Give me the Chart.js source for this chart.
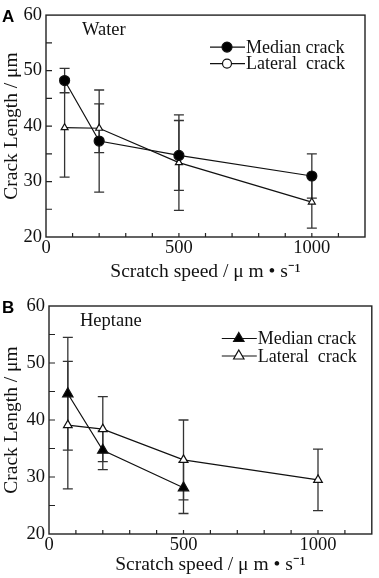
<!DOCTYPE html>
<html>
<head>
    <title>Crack length vs scratch speed</title>
    <script src="https://cdn.jsdelivr.net/npm/chart.js"></script>
    <style>
        body { margin: 0; background: #fff; width: 379px; height: 578px; overflow: hidden; }
        canvas { position: absolute; left: 0; }
        #chartA { top: 0; }
        #chartB { top: 289px; }
    </style>
</head>
<body>
    <canvas id="chartA" width="379" height="289"></canvas>
    <canvas id="chartB" width="379" height="289"></canvas>
    <script>
        // scratch speeds (um/s)
        const speeds = [70, 200, 500, 1000];
        const heptaneMedianSpeeds = [70, 200, 500];

        // panel A - water
        const waterMedian = [48.2, 37.3, 34.7, 31.0];
        const waterMedianErr = [2.2, 9.2, 6.3, 4.0];
        const waterLateral = [39.7, 39.6, 33.4, 26.3];
        const waterLateralErr = [8.9, 4.4, 8.6, 4.7];

        // panel B - heptane
        const heptaneMedian = [44.6, 34.7, 28.1];
        const heptaneMedianErr = [9.9, 3.4, 4.5];
        const heptaneLateral = [39.1, 38.4, 33.0, 29.5];
        const heptaneLateralErr = [11.2, 5.7, 7.0, 5.4];

        const xLabels = [0, 500, 1000];
        const yLabels = [20, 30, 40, 50, 60];

        const serif = 'Liberation Serif, Times New Roman, serif';
        const ink = '#111';

        function points(xs, ys) {
            return xs.map((x, i) => ({ x: x, y: ys[i] }));
        }

        // error bars drawn under the markers
        const errorBars = {
            id: 'errorBars',
            beforeDatasetsDraw(chart) {
                const ctx = chart.ctx;
                const yScale = chart.scales.y;
                ctx.save();
                ctx.strokeStyle = '#333';
                ctx.lineWidth = 1.3;
                chart.data.datasets.forEach((ds, i) => {
                    const meta = chart.getDatasetMeta(i);
                    meta.data.forEach((el, j) => {
                        const v = ds.data[j].y, e = ds.errors[j];
                        const top = yScale.getPixelForValue(v + e);
                        const bot = yScale.getPixelForValue(v - e);
                        ctx.beginPath();
                        ctx.moveTo(el.x, top); ctx.lineTo(el.x, bot);
                        ctx.moveTo(el.x - 5, top); ctx.lineTo(el.x + 5, top);
                        ctx.moveTo(el.x - 5, bot); ctx.lineTo(el.x + 5, bot);
                        ctx.stroke();
                    });
                });
                ctx.restore();
            }
        };

        // box, inner ticks, panel letter, liquid name and legend
        const frame = {
            id: 'frame',
            afterDraw(chart) {
                const ctx = chart.ctx;
                const a = chart.chartArea;
                const opt = chart.options.plugins.frame;
                ctx.save();
                ctx.strokeStyle = '#222';
                ctx.lineWidth = 1.4;
                ctx.strokeRect(a.left, a.top, a.right - a.left, a.bottom - a.top);

                ctx.lineWidth = 1.2;
                ctx.beginPath();
                chart.scales.x.ticks.forEach(t => {
                    const px = chart.scales.x.getPixelForValue(t.value);
                    if (px <= a.left + 1 || px >= a.right - 1) return;
                    ctx.moveTo(px, a.bottom); ctx.lineTo(px, a.bottom - 4);
                });
                chart.scales.y.ticks.forEach(t => {
                    const py = chart.scales.y.getPixelForValue(t.value);
                    if (py <= a.top + 1 || py >= a.bottom - 1) return;
                    ctx.moveTo(a.left, py); ctx.lineTo(a.left + 6, py);
                });
                ctx.stroke();

                ctx.fillStyle = '#000';
                ctx.font = 'bold 17px Liberation Sans, Arial, sans-serif';
                ctx.textBaseline = 'middle';
                ctx.textAlign = 'left';
                ctx.fillText(opt.letter, 2, a.top + 2);

                ctx.fillStyle = ink;
                ctx.font = '18.5px ' + serif;
                ctx.fillText(opt.liquid, a.left + opt.liquidDx, a.top + 15.5);

                // legend: line with marker, then label
                const x0 = a.right - opt.legendDx;
                chart.data.datasets.forEach((ds, i) => {
                    const y = a.top + opt.legendDy + i * opt.legendGap;
                    ctx.strokeStyle = ink;
                    ctx.lineWidth = 1.2;
                    ctx.beginPath();
                    ctx.moveTo(x0, y); ctx.lineTo(x0 + 35, y);
                    ctx.stroke();
                    ctx.fillStyle = ds.pointBackgroundColor;
                    ctx.strokeStyle = ink;
                    Chart.helpers.drawPoint(ctx, {
                        pointStyle: ds.legendStyle,
                        radius: ds.legendRadius,
                        rotation: 0,
                        borderWidth: 1.2
                    }, x0 + 17, y);
                    ctx.fillStyle = ink;
                    ctx.font = '18px ' + serif;
                    ctx.fillText(ds.label, x0 + 36, y + 1);
                });
                ctx.restore();
            }
        };

        function makeChart(id, datasets, layout) {
            return new Chart(document.getElementById(id), {
                type: 'scatter',
                data: { datasets: datasets },
                options: {
                    responsive: false,
                    animation: false,
                    layout: { padding: { top: layout.top, right: layout.right, left: 0, bottom: 0 } },
                    plugins: {
                        legend: { display: false },
                        tooltip: { enabled: false },
                        frame: layout.frame
                    },
                    scales: {
                        x: {
                            type: 'linear',
                            min: 0,
                            max: 1200,
                            afterFit: s => { s.height = layout.xHeight; },
                            grid: { display: false, drawTicks: false },
                            border: { display: false },
                            ticks: {
                                stepSize: 100,
                                autoSkip: false,
                                maxRotation: 0,
                                padding: 0,
                                color: ink,
                                font: { family: serif, size: 18.5 },
                                callback: v => xLabels.includes(v) ? String(v) : ''
                            },
                            title: {
                                display: true,
                                text: 'Scratch speed / \u03bc m \u2022 s\u207b\u00b9',
                                color: ink,
                                font: { family: serif, size: 19.5, lineHeight: 1 },
                                padding: { top: 0, bottom: layout.titlePad }
                            }
                        },
                        y: {
                            min: 20,
                            max: 60,
                            afterFit: s => { s.width = layout.yWidth; },
                            grid: { display: false, drawTicks: false },
                            border: { display: false },
                            ticks: {
                                stepSize: 5,
                                autoSkip: false,
                                padding: 4,
                                color: ink,
                                font: { family: serif, size: 18.5 },
                                callback: v => yLabels.includes(v) ? String(v) : ''
                            },
                            title: {
                                display: true,
                                text: 'Crack Length / \u03bcm',
                                color: ink,
                                font: { family: serif, size: 19.5, lineHeight: 1 },
                                padding: { top: 2, bottom: 0 }
                            }
                        }
                    }
                },
                plugins: [errorBars, frame]
            });
        }

        function series(label, xs, ys, errs, style) {
            return Object.assign({
                label: label,
                data: points(xs, ys),
                errors: errs,
                showLine: true,
                borderColor: ink,
                borderWidth: 1.2,
                pointBorderColor: ink,
                pointBorderWidth: 1.2,
                tension: 0
            }, style);
        }

        makeChart('chartA', [
            series('Median crack', speeds, waterMedian, waterMedianErr, {
                pointStyle: 'circle', pointRadius: 5, pointBackgroundColor: '#000',
                legendStyle: 'circle', legendRadius: 5
            }),
            series('Lateral  crack', speeds, waterLateral, waterLateralErr, {
                pointStyle: 'triangle', pointRadius: 4, pointBackgroundColor: '#fff',
                legendStyle: 'circle', legendRadius: 4.5
            })
        ], {
            top: 10, right: 14, xHeight: 52, yWidth: 46, titlePad: 7,
            frame: { letter: 'A', liquid: 'Water', liquidDx: 36, legendDx: 155, legendDy: 32, legendGap: 16.5 }
        });

        makeChart('chartB', [
            series('Median crack', heptaneMedianSpeeds, heptaneMedian, heptaneMedianErr, {
                pointStyle: 'triangle', pointRadius: 6, pointBackgroundColor: '#000',
                legendStyle: 'triangle', legendRadius: 6
            }),
            series('Lateral  crack', speeds, heptaneLateral, heptaneLateralErr, {
                pointStyle: 'triangle', pointRadius: 5, pointBackgroundColor: '#fff',
                legendStyle: 'triangle', legendRadius: 6
            })
        ], {
            top: 17, right: 2, xHeight: 44, yWidth: 49, titlePad: 3.5,
            frame: { letter: 'B', liquid: 'Heptane', liquidDx: 31, legendDx: 150, legendDy: 32.5, legendGap: 17.5 }
        });
    </script>
</body>
</html>
